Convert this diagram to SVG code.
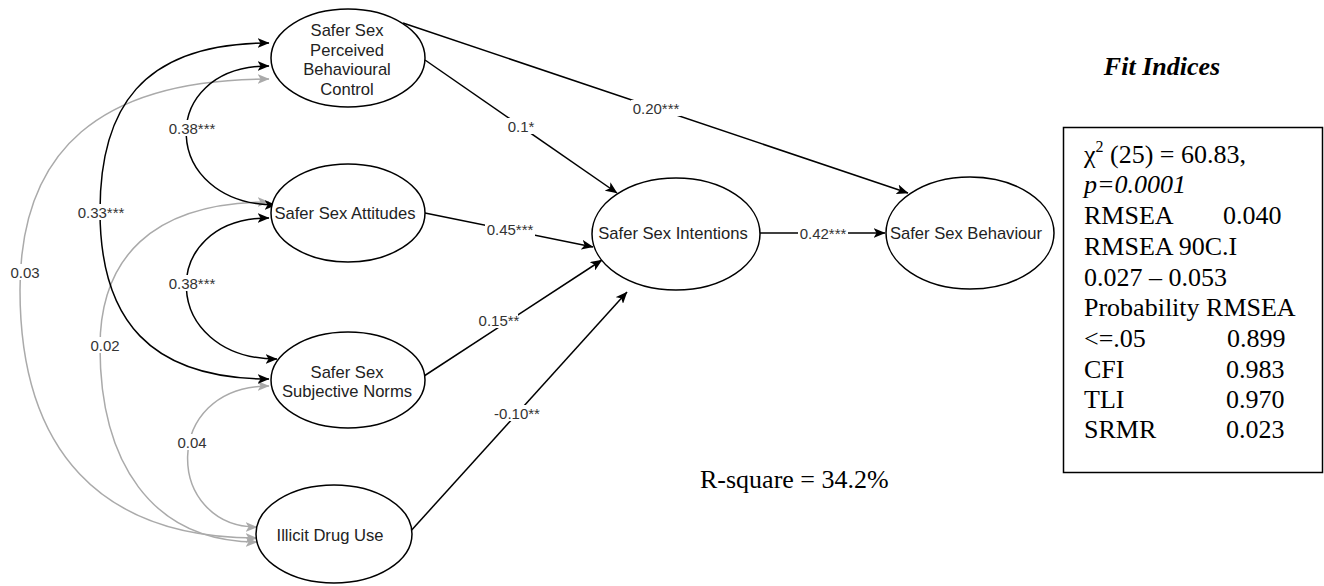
<svg xmlns="http://www.w3.org/2000/svg" width="1324" height="586" viewBox="0 0 1324 586">
<style>
.node ellipse{fill:#fff;stroke:#000;stroke-width:1.5}
.nt{font-family:"Liberation Sans",Arial,sans-serif;font-size:16.6px;fill:#222;text-anchor:middle}
.e{fill:none;stroke:#000;stroke-width:1.5}
.g{fill:none;stroke:#aaa;stroke-width:1.5}
.lb{font-family:"Liberation Sans",Arial,sans-serif;font-size:15px;fill:#333;text-anchor:middle;dominant-baseline:central}
.bg{fill:#fff}
.fit{font-family:"Liberation Serif","Times New Roman",serif;font-size:26px;fill:#000}
</style>
<defs>
<marker id="ab" viewBox="0 0 12 10" refX="11.5" refY="5" markerWidth="12" markerHeight="10" markerUnits="userSpaceOnUse" orient="auto-start-reverse"><path d="M0,0 L12,5 L0,10 L3,5 z" fill="#000"/></marker>
<marker id="ag" viewBox="0 0 12 10" refX="11.5" refY="5" markerWidth="12" markerHeight="10" markerUnits="userSpaceOnUse" orient="auto-start-reverse"><path d="M0,0 L12,5 L0,10 L3,5 z" fill="#aaa"/></marker>
</defs>
<rect width="1324" height="586" fill="#fff"/>
<g id="connectors">
<path class="g" d="M269,79 C100,79 20,150 20,290 C20,450 100,538 257,538" marker-start="url(#ag)" marker-end="url(#ag)"/>
<path class="g" d="M269,202 C150,202 100,260 100,347 C100,460 150,542 257,542" marker-start="url(#ag)" marker-end="url(#ag)"/>
<path class="g" d="M269,386 C160,386 165,527 257,527" marker-start="url(#ag)" marker-end="url(#ag)"/>
<path class="e" d="M269,43 C140,43 100,110 100,211 C100,320 150,379 269,379" marker-start="url(#ab)" marker-end="url(#ab)"/>
<path class="e" d="M269,66 C155,66 160,205 276,205" marker-start="url(#ab)" marker-end="url(#ab)"/>
<path class="e" d="M269,218 C155,218 160,359 277,359" marker-start="url(#ab)" marker-end="url(#ab)"/>
<path class="e" d="M403,23 L908,193" marker-end="url(#ab)"/>
<path class="e" d="M425,60 L617,193" marker-end="url(#ab)"/>
<path class="e" d="M425,213 L593,247" marker-end="url(#ab)"/>
<path class="e" d="M421,378 L602,260" marker-end="url(#ab)"/>
<path class="e" d="M409,533 L627,292" marker-end="url(#ab)"/>
<path class="e" d="M760,233 L885,233" marker-end="url(#ab)"/>
<g id="labels">
<rect class="bg" x="168" y="120" width="49" height="16"/><text class="lb" x="192" y="128">0.38***</text>
<rect class="bg" x="168" y="275" width="49" height="16"/><text class="lb" x="192" y="283">0.38***</text>
<rect class="bg" x="77" y="204" width="49" height="16"/><text class="lb" x="101" y="212">0.33***</text>
<rect class="bg" x="9" y="264" width="32" height="16"/><text class="lb" x="25" y="272">0.03</text>
<rect class="bg" x="89" y="337" width="32" height="16"/><text class="lb" x="105" y="345">0.02</text>
<rect class="bg" x="176" y="434" width="32" height="16"/><text class="lb" x="192" y="442">0.04</text>
<rect class="bg" x="631" y="100" width="50" height="16"/><text class="lb" x="656" y="108">0.20***</text>
<rect class="bg" x="506" y="118" width="31" height="16"/><text class="lb" x="521" y="126">0.1*</text>
<rect class="bg" x="485" y="221" width="50" height="16"/><text class="lb" x="510" y="229">0.45***</text>
<rect class="bg" x="481" y="312" width="37" height="16"/><text class="lb" x="499" y="320">0.15**</text>
<rect class="bg" x="496" y="405" width="42" height="16"/><text class="lb" x="517" y="413">-0.10**</text>
<rect class="bg" x="798" y="225" width="50" height="16"/><text class="lb" x="823" y="233">0.42***</text>
</g>
</g>
<g id="node-pbc" class="node">
<ellipse cx="348" cy="58" rx="77" ry="49"/>
<text class="nt" x="347" y="36">Safer Sex</text>
<text class="nt" x="347" y="55.5">Perceived</text>
<text class="nt" x="347" y="75">Behavioural</text>
<text class="nt" x="347" y="94.5">Control</text>
</g>
<g id="node-attitudes" class="node">
<ellipse cx="348" cy="213" rx="77" ry="49"/>
<text class="nt" x="345" y="219">Safer Sex Attitudes</text>
</g>
<g id="node-norms" class="node">
<ellipse cx="348" cy="380" rx="77" ry="48"/>
<text class="nt" x="347" y="378">Safer Sex</text>
<text class="nt" x="347" y="397">Subjective Norms</text>
</g>
<g id="node-drug" class="node">
<ellipse cx="334" cy="534" rx="78" ry="49"/>
<text class="nt" x="330" y="541">Illicit Drug Use</text>
</g>
<g id="node-intentions" class="node">
<ellipse cx="676" cy="234" rx="84" ry="56"/>
<text class="nt" x="673" y="239">Safer Sex Intentions</text>
</g>
<g id="node-behaviour" class="node">
<ellipse cx="970" cy="233" rx="84" ry="56"/>
<text class="nt" x="966" y="239">Safer Sex Behaviour</text>
</g>
<g id="rsquare">
<text class="fit" x="700" y="488" font-size="25">R-square = 34.2%</text>
</g>
<g id="fit-indices">
<text class="fit" x="1162" y="75" text-anchor="middle" font-weight="bold" font-style="italic">Fit Indices</text>
<rect x="1063.5" y="127.5" width="259" height="345" fill="none" stroke="#000" stroke-width="1.5"/>
<text class="fit" x="1084" y="163">χ<tspan font-size="16" dy="-11">2</tspan><tspan dy="11"> (25) = 60.83,</tspan></text>
<text class="fit" x="1084" y="193" font-style="italic">p=0.0001</text>
<text class="fit" x="1084" y="224">RMSEA</text><text class="fit" x="1223" y="224">0.040</text>
<text class="fit" x="1084" y="255">RMSEA 90C.I</text>
<text class="fit" x="1084" y="286">0.027 – 0.053</text>
<text class="fit" x="1084" y="316">Probability RMSEA</text>
<text class="fit" x="1084" y="347">&lt;=.05</text><text class="fit" x="1227" y="347">0.899</text>
<text class="fit" x="1084" y="378">CFI</text><text class="fit" x="1226" y="378">0.983</text>
<text class="fit" x="1084" y="408">TLI</text><text class="fit" x="1226" y="408">0.970</text>
<text class="fit" x="1084" y="438">SRMR</text><text class="fit" x="1226" y="438">0.023</text>
</g>
</svg>
